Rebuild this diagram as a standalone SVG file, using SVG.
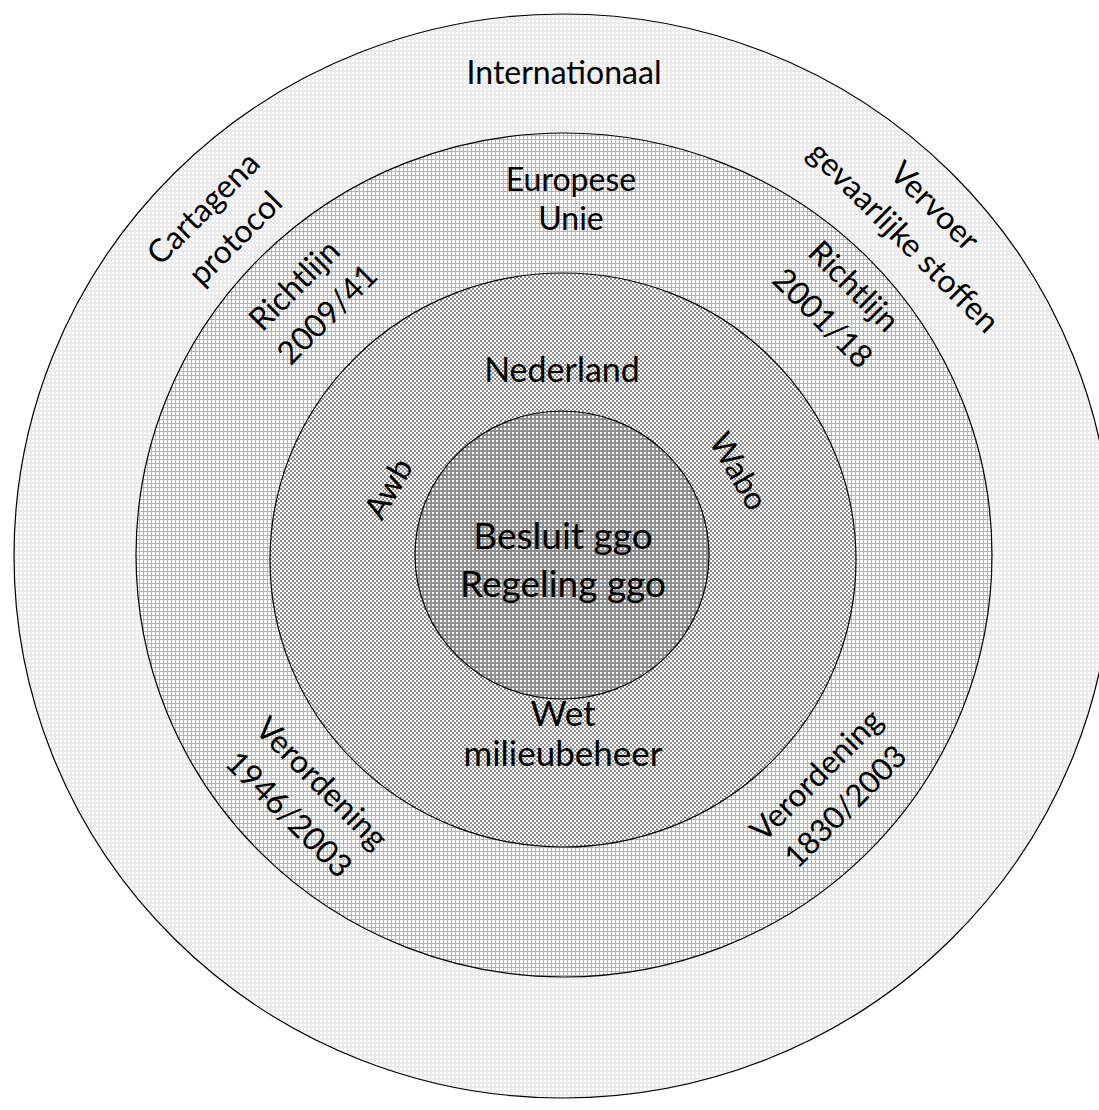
<svg xmlns="http://www.w3.org/2000/svg" width="1099" height="1110" viewBox="0 0 1099 1110">
<defs>
<pattern id="p1" patternUnits="userSpaceOnUse" width="4" height="4" shape-rendering="crispEdges">
<rect width="4" height="4" fill="#ebebeb"/><rect width="2" height="2" fill="#ffffff"/>
</pattern>
<pattern id="p2" patternUnits="userSpaceOnUse" width="4" height="4" shape-rendering="crispEdges">
<rect width="4" height="4" fill="#ffffff"/><rect y="3" width="4" height="1" fill="#b4b4b4"/><rect x="3" width="1" height="3" fill="#b4b4b4"/>
</pattern>
<pattern id="p3" patternUnits="userSpaceOnUse" width="4" height="4" shape-rendering="crispEdges">
<rect width="4" height="4" fill="#ffffff"/><rect width="2" height="2" fill="#8e8e8e"/><rect x="2" y="2" width="2" height="2" fill="#8e8e8e"/>
</pattern>
<pattern id="p4" patternUnits="userSpaceOnUse" width="4" height="4" shape-rendering="crispEdges">
<rect width="4" height="4" fill="#8e8e8e"/><rect width="2" height="2" fill="#ffffff"/>
</pattern>
</defs>
<style>
.ring{stroke:#000;stroke-width:1.2}
text{font-family:Lato,"Liberation Sans",sans-serif;fill:#000;text-anchor:middle}
.t{font-size:32px}
.c{font-size:37px}
</style>
<g id="internationaal">
<ellipse class="ring" cx="563" cy="556" rx="549" ry="542" fill="url(#p1)"/>
<text class="t" x="564" y="84">Internationaal</text>
<text class="t" transform="translate(211,216) rotate(-45)">Cartagena</text>
<text class="t" transform="translate(243,246) rotate(-45)">protocol</text>
<text class="t" transform="translate(927,214) rotate(45)">Vervoer</text>
<text class="t" transform="translate(896,245) rotate(45)">gevaarlijke stoffen</text>
</g>
<g id="europese-unie">
<ellipse class="ring" cx="564" cy="555" rx="428" ry="422" fill="url(#p2)"/>
<text class="t" x="571" y="191">Europese</text>
<text class="t" x="571" y="230">Unie</text>
<text class="t" transform="translate(302,293) rotate(-45)">Richtlijn</text>
<text class="t" transform="translate(335,322) rotate(-45)">2009/41</text>
<text class="t" transform="translate(846,294) rotate(45)">Richtlijn</text>
<text class="t" transform="translate(815,326) rotate(45)">2001/18</text>
<text class="t" transform="translate(314,791) rotate(45)">Verordening</text>
<text class="t" transform="translate(281,822) rotate(45)">1946/2003</text>
<text class="t" transform="translate(824,783) rotate(-45)">Verordening</text>
<text class="t" style="font-size:31px" transform="translate(853,814) rotate(-45)">1830/2003</text>
</g>
<g id="nederland">
<ellipse class="ring" cx="563" cy="560" rx="293" ry="287" fill="url(#p3)"/>
<text class="t" style="font-size:34px" x="562" y="382">Nederland</text>
<text class="t" transform="translate(398,494) rotate(-60)">Awb</text>
<text class="t" transform="translate(729,477) rotate(60)">Wabo</text>
</g>
<g id="ggo">
<ellipse class="ring" cx="562" cy="555" rx="147" ry="144" fill="url(#p4)"/>
<text class="c" x="563" y="549">Besluit ggo</text>
<text class="c" x="563" y="597">Regeling ggo</text>
</g>
<g id="wet-milieubeheer">
<text class="t" style="font-size:35px" x="563" y="726">Wet</text>
<text class="t" style="font-size:35px" x="563" y="766">milieubeheer</text>
</g>
<g id="connectors"/>
</svg>
